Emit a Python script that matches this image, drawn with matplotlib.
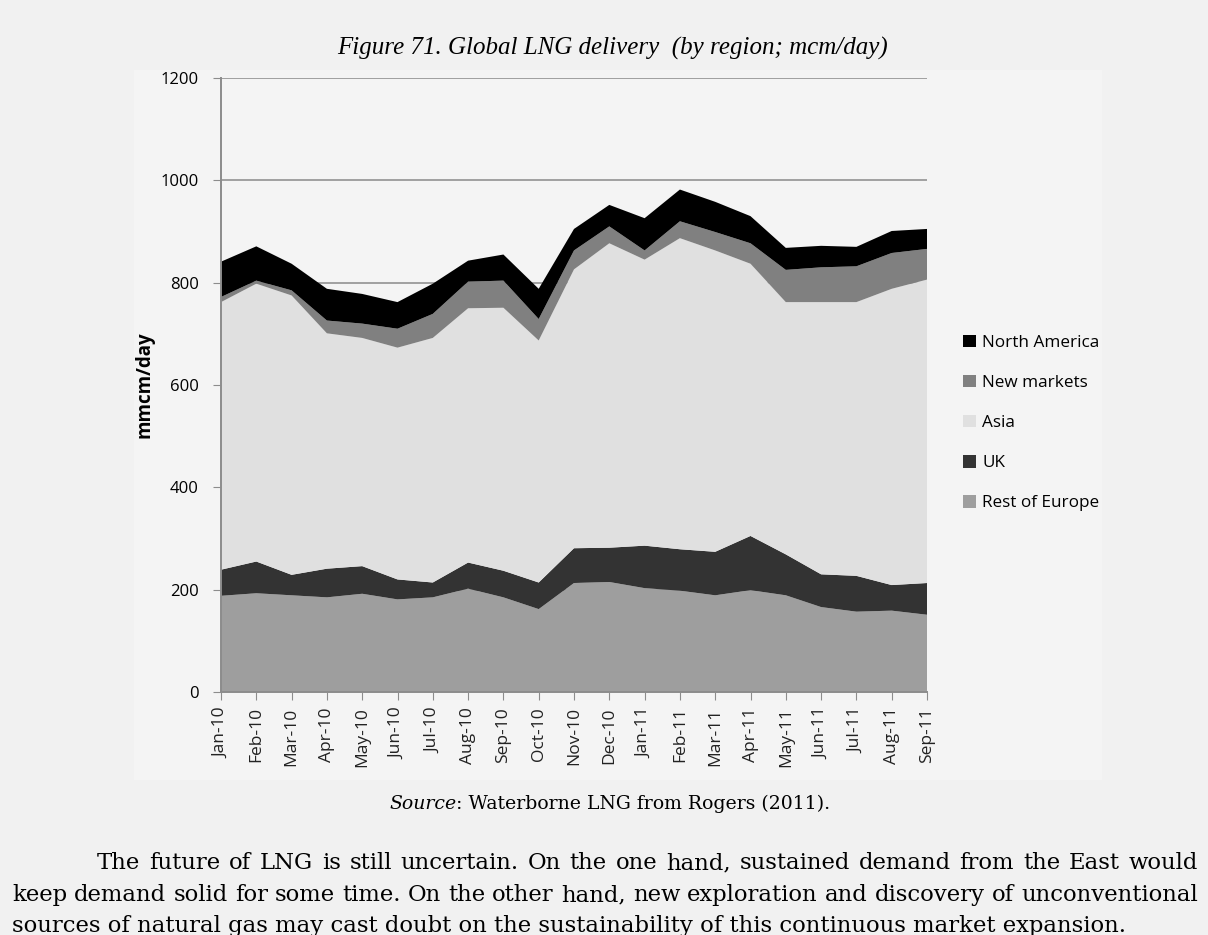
import matplotlib.pyplot as plt
import matplotlib.patches as mpatches
import numpy as np

months = ["Jan-10", "Feb-10", "Mar-10", "Apr-10", "May-10", "Jun-10", "Jul-10",
          "Aug-10", "Sep-10", "Oct-10", "Nov-10", "Dec-10", "Jan-11", "Feb-11",
          "Mar-11", "Apr-11", "May-11", "Jun-11", "Jul-11", "Aug-11", "Sep-11"]

# mcm/day per region
rest_of_europe = [188, 193, 189, 185, 192, 181, 185, 202, 185, 162, 213,
                  215, 203, 198, 189, 199, 189, 166, 157, 159, 151]
uk = [51, 62, 40, 56, 54, 39, 29, 51, 52, 52, 68,
      67, 83, 81, 85, 106, 80, 64, 70, 50, 62]
asia = [523, 543, 546, 460, 446, 453, 478, 497, 514, 473, 545,
        595, 559, 608, 589, 532, 493, 532, 535, 579, 593]
new_markets = [10, 6, 10, 25, 28, 37, 47, 52, 53, 42, 37,
               33, 18, 33, 36, 40, 63, 68, 70, 70, 60]
north_america = [69, 67, 52, 62, 58, 52, 59, 41, 51, 59, 42,
                 42, 63, 62, 59, 53, 43, 42, 38, 43, 39]

series_names = ["Rest of Europe", "UK", "Asia", "New markets", "North America"]
series_colors = ["#9e9e9e", "#333333", "#e0e0e0", "#808080", "#000000"]

W, H = 1208, 935
fig = plt.figure(figsize=(W / 100, H / 100), dpi=100, facecolor="#f1f1f1")

# lighter chart box behind the plot
fig.patches.append(mpatches.Rectangle((134 / W, 1 - 780 / H), (1102 - 134) / W, (780 - 70) / H,
                                      transform=fig.transFigure, facecolor="#f4f4f4",
                                      edgecolor="none", zorder=-10))

ax = fig.add_axes([221 / W, 1 - 692 / H, (927 - 221) / W, (692 - 78) / H])
ax.set_facecolor("#f4f4f4")

x = np.arange(len(months))
polys = ax.stackplot(x, rest_of_europe, uk, asia, new_markets, north_america,
                     colors=series_colors, labels=series_names, linewidth=0)

ax.set_xlim(0, len(months) - 1)
ax.set_ylim(0, 1200)
ax.set_yticks(range(0, 1201, 200))
ax.yaxis.grid(True, color="#a0a0a0", linewidth=1.4)
ax.set_axisbelow(True)
for p in polys:
    p.set_zorder(2)

ax.set_xticks(x)
ax.set_xticklabels(months, rotation=90, fontsize=12.5, family="Open Sans", color="#222222")
for lab in ax.get_yticklabels():
    lab.set_family("Open Sans")
    lab.set_fontsize(12)
ax.tick_params(axis="x", length=6, color="#8c8c8c", pad=5)
ax.tick_params(axis="y", length=6, color="#8c8c8c", pad=10)
for s in ["top", "right"]:
    ax.spines[s].set_visible(False)
for s in ["left", "bottom"]:
    ax.spines[s].set_color("#8c8c8c")
    ax.spines[s].set_linewidth(1.4)

ax.set_ylabel("mmcm/day", fontsize=13.5, fontweight="bold", family="Open Sans", labelpad=4)

handles, labels = ax.get_legend_handles_labels()
leg = fig.legend(handles[::-1], labels[::-1], loc="center left",
                 bbox_to_anchor=(948 / W, 1 - 423 / H), frameon=False,
                 prop={"family": "Open Sans", "size": 12.3},
                 handlelength=0.75, handleheight=0.75, handletextpad=0.35,
                 labelspacing=1.4)

fig.text(613 / W, 1 - 55 / H, "Figure 71. Global LNG delivery  (by region; mcm/day)",
         ha="center", va="baseline", fontsize=18, style="italic", family="Liberation Serif")

src = fig.text(389 / W, 1 - 809 / H, "Source", ha="left", va="baseline", fontsize=13.6,
               style="italic", family="DejaVu Serif")
fig.canvas.draw()
bb = src.get_window_extent()
fig.text(bb.x1 / W, 1 - 809 / H, ": Waterborne LNG from Rogers (2011).", ha="left", va="baseline",
         fontsize=13.6, family="DejaVu Serif")

# justified paragraph below the figure
para = [
    (97, 1198, 869, "The future of LNG is still uncertain. On the one hand, sustained demand from the East would", True),
    (12, 1198, 901, "keep demand solid for some time. On the other hand, new exploration and discovery of unconventional", True),
    (12, None, 932, "sources of natural gas may cast doubt on the sustainability of this continuous market expansion.", False),
]
renderer = fig.canvas.get_renderer()
for x0, x1, yy, line, justify in para:
    if not justify:
        fig.text(x0 / W, 1 - yy / H, line, ha="left", va="baseline", fontsize=16.4,
                 family="DejaVu Serif")
        continue
    words = line.split()
    objs = [fig.text(0, 1 - yy / H, w, ha="left", va="baseline", fontsize=16.4,
                     family="DejaVu Serif") for w in words]
    widths = [o.get_window_extent(renderer).width for o in objs]
    gap = (x1 - x0 - sum(widths)) / (len(words) - 1)
    pos = x0
    for o, wd in zip(objs, widths):
        o.set_x(pos / W)
        pos += wd + gap

fig.savefig("out.png", dpi=100, facecolor=fig.get_facecolor())
